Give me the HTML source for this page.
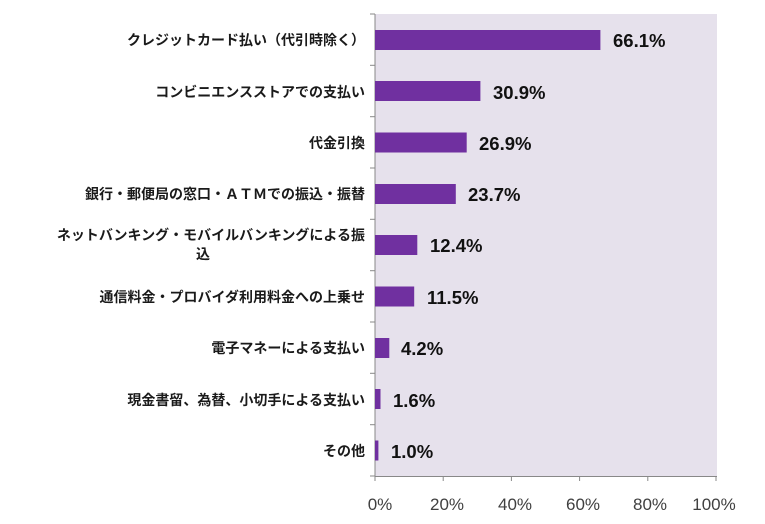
<!DOCTYPE html>
<html><head><meta charset="utf-8"><style>
html,body{margin:0;padding:0;background:#fff;}
svg{display:block;}
.c{font-family:"Liberation Sans","Noto Sans CJK JP",sans-serif;font-size:14px;font-weight:bold;fill:#1a1a1a;}
.v{font-family:"Liberation Sans",sans-serif;font-size:18.5px;font-weight:bold;fill:#111;}
.t{font-family:"Liberation Sans",sans-serif;font-size:17px;fill:#404040;}
</style></head><body>
<svg width="765" height="524" viewBox="0 0 765 524" xmlns="http://www.w3.org/2000/svg">
<rect x="375" y="14" width="342" height="462" fill="#e6e1ec"/>
<g stroke="#888" stroke-width="1">
<line x1="375" y1="14" x2="375" y2="477"/>
<line x1="375" y1="476.5" x2="717" y2="476.5"/>
<line x1="370" y1="14" x2="375" y2="14"/>
<line x1="370" y1="65.3" x2="375" y2="65.3"/>
<line x1="370" y1="116.7" x2="375" y2="116.7"/>
<line x1="370" y1="168" x2="375" y2="168"/>
<line x1="370" y1="219.3" x2="375" y2="219.3"/>
<line x1="370" y1="270.7" x2="375" y2="270.7"/>
<line x1="370" y1="322" x2="375" y2="322"/>
<line x1="370" y1="373.3" x2="375" y2="373.3"/>
<line x1="370" y1="424.7" x2="375" y2="424.7"/>
<line x1="370" y1="476" x2="375" y2="476"/>
<line x1="375" y1="476" x2="375" y2="481"/>
<line x1="443.2" y1="476" x2="443.2" y2="481"/>
<line x1="511.4" y1="476" x2="511.4" y2="481"/>
<line x1="579.6" y1="476" x2="579.6" y2="481"/>
<line x1="647.8" y1="476" x2="647.8" y2="481"/>
<line x1="716" y1="476" x2="716" y2="481"/>
</g>
<g fill="#7030a0">
<rect x="375" y="30" width="225.4" height="20"/>
<rect x="375" y="81" width="105.4" height="20"/>
<rect x="375" y="132.5" width="91.7" height="20"/>
<rect x="375" y="184" width="80.8" height="20"/>
<rect x="375" y="235" width="42.3" height="20"/>
<rect x="375" y="286.5" width="39.2" height="20"/>
<rect x="375" y="338" width="14.3" height="20"/>
<rect x="375" y="389" width="5.5" height="20"/>
<rect x="375" y="440.5" width="3.4" height="20"/>
</g>
<g class="v">
<text x="613" y="47">66.1%</text>
<text x="493" y="99">30.9%</text>
<text x="479" y="150">26.9%</text>
<text x="468" y="201">23.7%</text>
<text x="430" y="252">12.4%</text>
<text x="427" y="304">11.5%</text>
<text x="401" y="355">4.2%</text>
<text x="393" y="407">1.6%</text>
<text x="391" y="458">1.0%</text>
</g>
<g class="c" text-anchor="end">
<text x="365" y="45">クレジットカード払い（代引時除く）</text>
<text x="365" y="97">コンビニエンスストアでの支払い</text>
<text x="365" y="148">代金引換</text>
<text x="365" y="199">銀行・郵便局の窓口・ＡＴＭでの振込・振替</text>
<text x="365" y="240">ネットバンキング・モバイルバンキングによる振</text>
<text x="365" y="302">通信料金・プロバイダ利用料金への上乗せ</text>
<text x="365" y="353">電子マネーによる支払い</text>
<text x="365" y="405">現金書留、為替、小切手による支払い</text>
<text x="365" y="456">その他</text>
</g>
<text class="c" x="203" y="259" text-anchor="middle">込</text>
<g class="t" text-anchor="middle">
<text x="380" y="510">0%</text>
<text x="447" y="510">20%</text>
<text x="515" y="510">40%</text>
<text x="583" y="510">60%</text>
<text x="650" y="510">80%</text>
<text x="714" y="510">100%</text>
</g>
</svg>
</body></html>
